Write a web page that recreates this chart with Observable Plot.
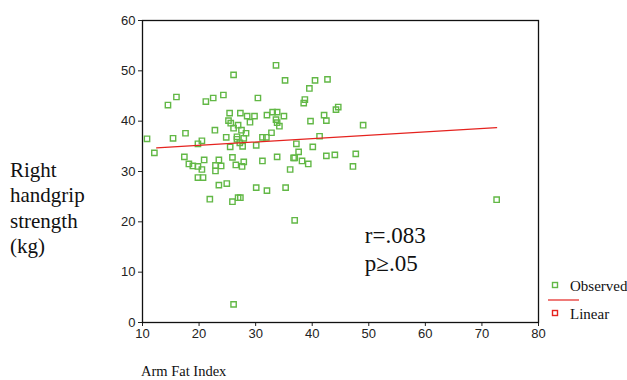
<!DOCTYPE html>
<html>
<head>
<meta charset="utf-8">
<script src="https://cdn.jsdelivr.net/npm/d3@7"></script>
<script src="https://cdn.jsdelivr.net/npm/@observablehq/plot@0.6"></script>
<style>
  body { margin: 0; background: #fff; }
  #wrap { position: relative; width: 627px; height: 380px; overflow: hidden; }
  .serif { font-family: "Liberation Serif", "Times New Roman", serif; color: #111; position: absolute; white-space: nowrap; }
</style>
</head>
<body>
<div id="wrap">
  <div id="chart"></div>
  <div class="serif" style="left:10px; top:158px; font-size:21px; line-height:25.3px;">Right<br>handgrip<br>strength<br>(kg)</div>
  <div class="serif" style="left:141px; top:362px; font-size:14.5px; line-height:18px;">Arm Fat Index</div>
  <div id="legend"></div>
</div>
<script>
// Observed data: Arm Fat Index (x) vs right handgrip strength in kg (y)
const armFat = [10.8, 12.1, 15.4, 17.6, 19.8, 20.5, 22.8, 24.8, 25.2, 25.4, 25.6, 27.3, 26.9, 26.1, 27.5, 28.3,
  26.7, 26.7, 27.9, 27.2, 27.7, 25.5, 30.1, 28.5, 29.8, 29.0, 32.0, 31.2, 31.9, 32.8, 33.8, 33.8,
  17.4, 18.2, 18.9, 19.8, 20.9, 20.5, 19.8, 20.7, 23.5, 22.9, 23.9, 22.9, 25.9, 26.5, 27.9, 27.6,
  31.2, 23.5, 24.9, 30.1, 32.0, 21.9, 25.9, 26.9, 27.3, 33.6, 26.1, 16.0, 14.5, 21.2, 22.5, 24.3,
  30.4, 33.0, 33.8, 35.2, 40.5, 42.7, 39.5, 38.7, 38.5, 44.6, 44.2, 35.0, 42.1, 33.6, 39.7, 42.5,
  34.2, 49.0, 41.3, 37.2, 37.6, 40.1, 36.7, 36.9, 38.2, 39.3, 42.5, 44.0, 47.7, 36.1, 47.2, 35.3,
  36.9, 72.6, 26.1];
const gripKg = [36.5, 33.7, 36.6, 37.6, 35.5, 36.1, 38.2, 36.8, 40.1, 41.6, 39.6, 41.6, 39.2, 38.6, 38.2, 37.6,
  36.9, 36.4, 36.6, 35.7, 35.0, 34.9, 35.2, 41.0, 41.0, 39.8, 41.2, 36.8, 36.8, 37.7, 39.7, 32.9,
  32.9, 31.5, 31.1, 31.0, 32.3, 30.4, 28.8, 28.8, 32.3, 31.2, 31.1, 30.1, 32.8, 31.3, 31.9, 31.0,
  32.1, 27.3, 27.6, 26.8, 26.2, 24.5, 24.0, 24.8, 24.8, 51.1, 49.2, 44.8, 43.2, 43.9, 44.6, 45.2,
  44.6, 41.8, 41.8, 48.1, 48.1, 48.3, 46.5, 44.3, 43.6, 42.8, 42.3, 41.0, 41.2, 40.3, 40.0, 40.1,
  39.0, 39.2, 37.0, 35.5, 33.9, 34.9, 32.7, 32.7, 32.1, 31.5, 33.1, 33.3, 33.5, 30.4, 31.0, 26.8,
  20.3, 24.4, 3.6];

// Linear fit line endpoints
const fitX = [12.5, 72.6];
const fitY = [34.7, 38.7];

// Annotation texts and their positions (data units)
const noteText = ["r=.083", "p\u2265.05"];
const noteX = [49.3, 49.3];
const noteY = [17.3, 11.7];

// Ticks
const xTicks = [10, 20, 30, 40, 50, 60, 70, 80];
const yTicks = [0, 10, 20, 30, 40, 50, 60];

const green = "#62b846";
const red = "#e5231f";

const pts = armFat.map((x, i) => ({x, y: gripKg[i]}));
const fit = fitX.map((x, i) => ({x, y: fitY[i]}));
const notes = noteText.map((t, i) => ({t, x: noteX[i], y: noteY[i]}));

const chart = Plot.plot({
  width: 627,
  height: 380,
  marginLeft: 142,
  marginRight: 89,
  marginTop: 20,
  marginBottom: 58,
  style: {fontFamily: "'Liberation Sans', Arial, sans-serif", fontSize: "13px", color: "#222", background: "#fff"},
  x: {domain: [10, 80], ticks: xTicks, tickSize: 4, tickPadding: 2, label: null},
  y: {domain: [0, 60], ticks: yTicks, tickSize: 4, tickPadding: 3, label: null},
  marks: [
    Plot.frame({stroke: "#111", strokeWidth: 1.3}),
    Plot.dot(pts, {x: "x", y: "y", symbol: "square", r: 3, stroke: green, fill: "none", strokeWidth: 1.4}),
    Plot.line(fit, {x: "x", y: "y", stroke: red, strokeWidth: 1.2}),
    Plot.text(notes, {x: "x", y: "y", text: "t", textAnchor: "start", lineAnchor: "middle",
      fontFamily: "'Liberation Serif', 'Times New Roman', serif", fontSize: 23, fill: "#111"})
  ]
});
document.getElementById("chart").appendChild(chart);

// Legend
const legendItems = ["Observed", "Linear"];
const legendColors = [green, red];
const lg = document.getElementById("legend");
lg.innerHTML = `
<svg style="position:absolute;left:545px;top:276px" width="40" height="50">
  <rect x="7.5" y="6.5" width="5" height="5" fill="none" stroke="${legendColors[0]}" stroke-width="1.4"/>
  <line x1="3" y1="24" x2="34" y2="24" stroke="${legendColors[1]}" stroke-width="1.2"/>
  <rect x="7.5" y="34.5" width="5" height="5" fill="none" stroke="${legendColors[1]}" stroke-width="1.4"/>
</svg>
<div class="serif" style="left:570px; top:277px; font-size:15px; line-height:18px;">${legendItems[0]}</div>
<div class="serif" style="left:570px; top:305px; font-size:15px; line-height:18px;">${legendItems[1]}</div>`;
</script>
</body>
</html>
